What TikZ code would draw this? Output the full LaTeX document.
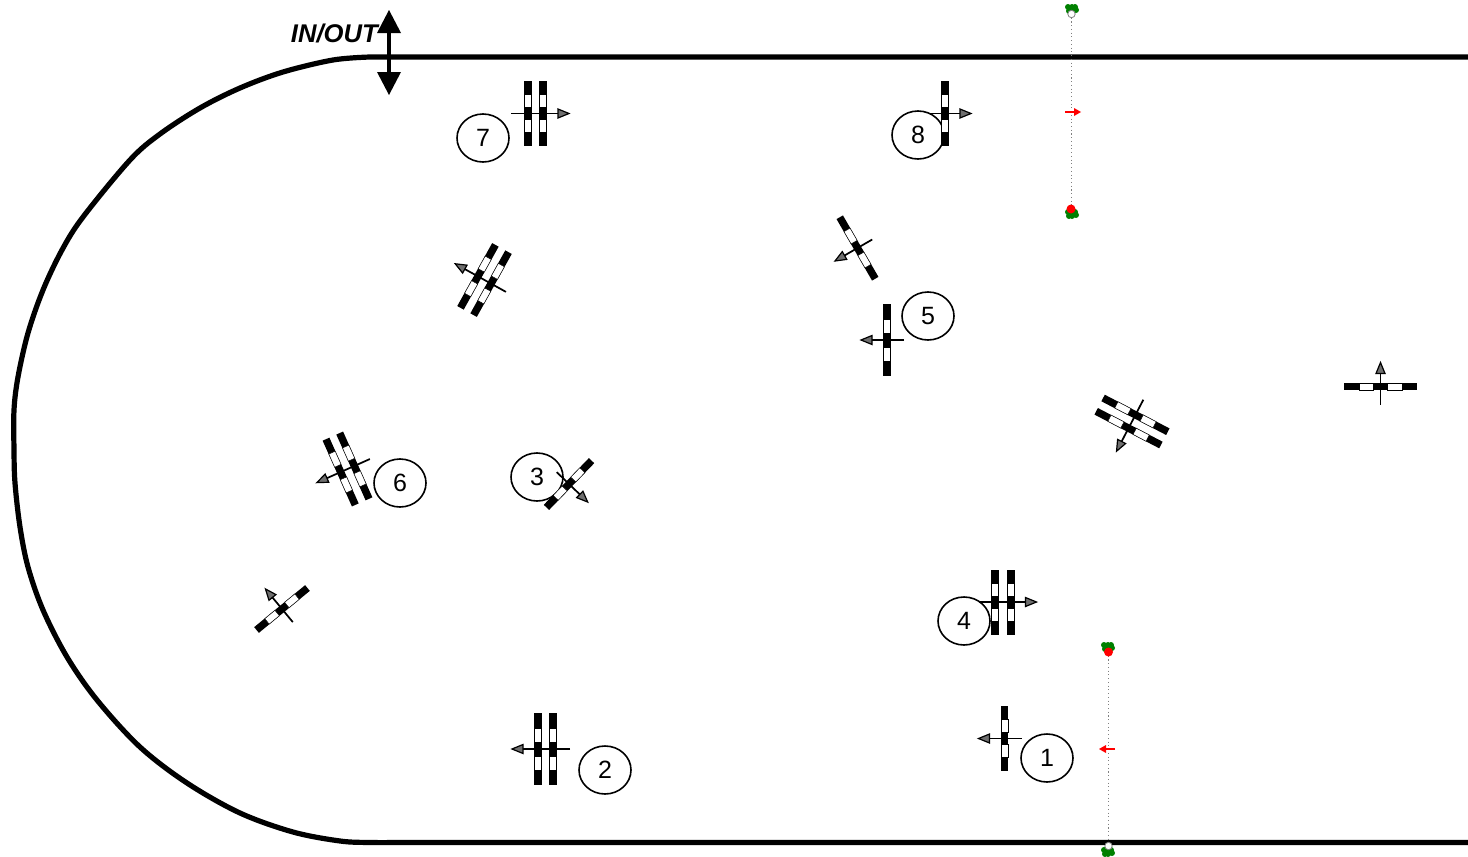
\documentclass[tikz,border=0pt]{standalone}
\usepackage{fontspec}
\setmainfont{Liberation Sans}
\usetikzlibrary{shapes.geometric}
\definecolor{headgray}{RGB}{110,110,110}
\definecolor{dotgreen}{RGB}{0,128,0}
\tikzset{
  x=0.75pt,y=-0.75pt,
  track/.style={line width=3.9pt,line join=round},
  numcircle/.style={ellipse,draw=black,line width=1.2pt,minimum width=52*0.75pt,minimum height=48*0.75pt,inner sep=0pt,font=\fontsize{18.75pt}{20pt}\selectfont},
  barwindow/.style={fill=white,draw=black,line width=0.35pt},
  guide/.style={draw=gray,line width=0.8pt,dash pattern=on 0.8pt off 2pt},
}
% #1 centre x, #2 centre y, #3 angle, #4 offsets, #5 length, #6 back, #7 forward
\newcommand{\sled}[7]{%
  \begin{scope}[shift={(#1,#2)},rotate=#3]
    \foreach \o in {#4}{%
      \fill[black] (\o-3.7,-#5/2) rectangle (\o+3.7,#5/2);
      \draw[barwindow] (\o-3.5,0.095*#5) rectangle (\o+3.5,0.295*#5);
      \draw[barwindow] (\o-3.5,-0.095*#5) rectangle (\o+3.5,-0.295*#5);
    }
    \draw[black,line width=1.3pt] (-#6,0) -- (#7-9,0);
    \filldraw[fill=headgray,draw=black,line width=0.9pt,line join=miter] (#7-1,0) -- (#7-12,4.5) -- (#7-12,-4.5) -- cycle;
  \end{scope}}
\newcommand{\blob}[2]{%
  \fill[dotgreen] (#1-4,#2-2) circle[radius=3] (#1+3,#2-2) circle[radius=3] (#1-3,#2+2) circle[radius=3] (#1+4,#2+1) circle[radius=3] (#1,#2) circle[radius=4.5] (#1,#2-2) circle[radius=3] (#1,#2+2) circle[radius=3];}
\begin{document}
\begin{tikzpicture}
\useasboundingbox (0,0) rectangle (1468,857);
% track
\draw[track] (1468,57) -- (370,57) plot[smooth,tension=0.55] coordinates {(370,57) (333,60) (283,72) (240,88) (200,108) (160,134) (130,160) (83,217) (62,250) (43,290) (28,333) (18,377) (14,410) (14,450) (15,483) (20,527) (28,567) (43,610) (67,657) (97,700) (140,747) (187,783) (240,813) (293,832) (340,841) (370,842.5) (400,842.5)} -- (1468,842.5);
% in/out
\draw[black,line width=3pt] (389,30) -- (389,75);
\fill[black] (389,10) -- (401,33) -- (377,33) -- cycle;
\fill[black] (389,95) -- (401,72) -- (377,72) -- cycle;
\node[anchor=base east,inner sep=0pt,font=\fontsize{19.2pt}{20pt}\selectfont\bfseries\itshape] (inout) at (378,42) {IN/OUT};
% numbered circles
\node[numcircle] (n7) at (483,138) {7};
\node[numcircle] (n8) at (918,135) {8};
\node[numcircle] (n5) at (928,316) {5};
\node[numcircle] (n6) at (400,483) {6};
\node[numcircle] (n3) at (537,477) {3};
\node[numcircle] (n2) at (605,770) {2};
\node[numcircle] (n1) at (1047,758) {1};
\node[numcircle] (n4) at (964,621) {4};
% sleds
\sled{535.5}{113.5}{0}{-7.5,7.5}{65}{24.5}{34.5}
\sled{945}{113.5}{0}{0}{65}{17}{27}
\sled{887}{340}{180}{0}{72}{17}{27}
\sled{857.5}{248}{210}{0}{71}{17}{27}
\sled{484.5}{280}{151}{-7.5,7.5}{72}{24.5}{34.5}
\sled{347.5}{469}{204}{-7.5,7.5}{72}{24.5}{34.5}
\sled{569}{484}{-44}{0}{65}{17}{27}
\sled{282}{609}{129.5}{0}{66}{17}{27}
\sled{545.5}{749}{180}{-7.5,7.5}{72}{24.5}{34.5}
\sled{1004.5}{738.5}{180}{0}{65}{17}{27}
\sled{1003}{602}{0}{-8,8}{65}{24.5}{34.5}
\sled{1132}{421.5}{242.5}{-7.5,7.5}{73}{24.5}{34.5}
\sled{1380.5}{386.5}{90}{0}{73}{18}{25}
% gates
\draw[guide] (1071.5,14) -- (1071.5,209);
\draw[guide] (1108.5,652) -- (1108.5,846);
\blob{1072}{9}
\blob{1072}{214}
\blob{1108}{647}
\blob{1108}{852}
\fill[red] (1071,209) circle[radius=4.5];
\fill[red] (1108.5,652) circle[radius=4.5];
\filldraw[fill=white,draw=gray,line width=0.6pt] (1071.5,14) circle[radius=3.7];
\filldraw[fill=white,draw=gray,line width=0.6pt] (1108.5,846) circle[radius=3.7];
\draw[red,line width=1.2pt] (1065,112) -- (1076,112);
\fill[red] (1081,112) -- (1074,108) -- (1074,116) -- cycle;
\draw[red,line width=1.2pt] (1115,749) -- (1104,749);
\fill[red] (1099,749) -- (1106,745) -- (1106,753) -- cycle;
\end{tikzpicture}
\end{document}
